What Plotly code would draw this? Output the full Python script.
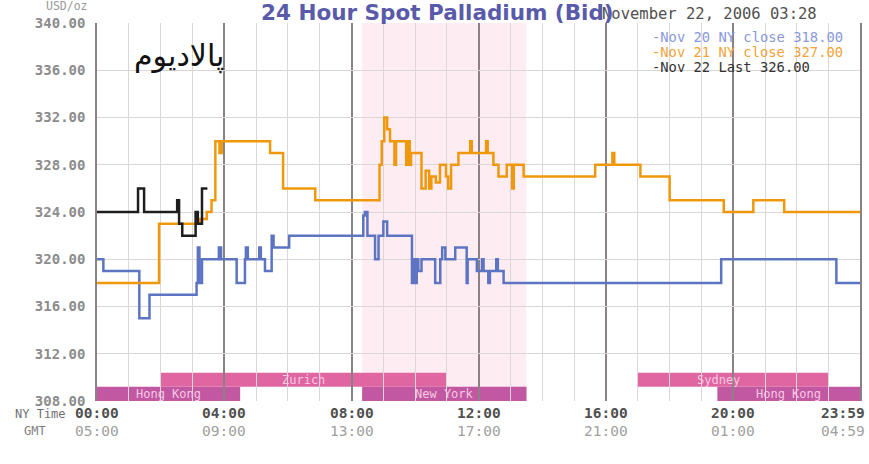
import plotly.graph_objects as go

# ---------------- data ----------------
# times in hours (NY time), values in USD/oz
nov20_t = [0, 0.2, 1.33, 1.65, 3.13, 3.17, 3.22, 3.3, 3.83, 3.9, 4.39, 4.65, 4.68, 4.74, 5.1, 5.15, 5.28, 5.49, 5.55, 6.04,
           8.37, 8.42, 8.5, 8.74, 8.85, 9.0, 9.12, 9.9, 9.95, 10.0, 10.05, 10.1, 10.2, 10.63, 10.79, 10.85, 10.95, 11.26,
           11.62, 11.65, 11.94, 12.1, 12.15, 12.3, 12.35, 12.55, 12.6, 12.78, 19.62, 23.24, 23.983]
nov20_v = [320, 319, 315, 317, 318, 321, 318, 320, 321, 320, 318, 320, 321, 320, 321, 320, 319, 322, 321, 322,
           323.7, 324, 322, 320, 322, 323.2, 322, 318, 320, 318, 320, 319, 320, 318, 320, 321, 320, 321,
           318, 320, 319, 320, 319, 318, 319, 320, 319, 318, 320, 318, 318]

nov21_t = [0, 1.95, 3.24, 3.45, 3.6, 3.72, 3.85, 3.92, 5.44, 5.85, 6.86, 8.88, 8.95, 9.03, 9.12, 9.21, 9.35, 9.4,
           9.72, 9.77, 9.83, 9.87, 10.2, 10.33, 10.44, 10.51, 10.65, 10.78, 10.97, 11.04, 11.13, 11.36, 11.73, 11.78,
           12.23, 12.28, 12.46, 12.62, 12.88, 13.05, 13.1, 13.41, 15.66, 16.2, 16.26, 17.08, 18.0, 19.7, 20.63,
           21.6, 23.983]
nov21_v = [318, 323, 323.4, 324, 325, 330, 329, 330, 329, 326, 325, 328, 330, 332, 331, 330, 328, 330,
           328, 330, 328, 329, 326, 327.5, 326, 327, 326.5, 328, 327, 326, 328, 329, 330, 329,
           330, 329, 328, 327, 328, 326, 328, 327, 328, 329, 328, 327, 325, 324, 325,
           324, 324]

nov22_t = [0, 1.29, 1.48, 2.52, 2.58, 2.68, 3.1, 3.17, 3.3, 3.47]
nov22_v = [324, 326, 324, 325, 323, 322, 324, 323, 326, 326]

y_ticks = [308, 312, 316, 320, 324, 328, 332, 336, 340]
y_tick_labels = ["308.00", "312.00", "316.00", "320.00", "324.00", "328.00", "332.00", "336.00", "340.00"]

x_major = [0, 4, 8, 12, 16, 20, 23.983]
ny_labels = ["00:00", "04:00", "08:00", "12:00", "16:00", "20:00", "23:59"]
gmt_labels = ["05:00", "09:00", "13:00", "17:00", "21:00", "01:00", "04:59"]

# markets: name, start hour, end hour, row (0 = bottom, 1 = top)
market_names = ["Hong Kong", "Zurich", "New York", "Sydney", "Hong Kong"]
market_start = [0, 2, 8.333, 17, 19.5]
market_end = [4.5, 11, 13.5, 23, 23.983]
market_row = [0, 1, 0, 1, 0]

legend_texts = ["-Nov 20 NY close 318.00", "-Nov 21 NY close 327.00", "-Nov 22 Last 326.00"]

# ---------------- styles ----------------
BLUE = "#5c74c2"
ORANGE = "#f0980c"
BLACK = "#1e1e1e"
MONO = "DejaVu Sans Mono"

W, H = 869, 464
X0, X1, Y0, Y1 = 97, 860, 23, 401   # plot area in page pixels
L, R, T, B = X0, W - X1, Y0, H - Y1


def px(xp):
    return (xp - X0) / (X1 - X0)


def py(yp):
    return (Y1 - yp) / (Y1 - Y0)


def ann(x, y, text, size, color, family=MONO, xanchor="center", xref="paper", yref="paper"):
    return dict(x=x, y=y, xref=xref, yref=yref, text=text, showarrow=False,
                xanchor=xanchor, yanchor="middle", font=dict(family=family, size=size, color=color))


fig = go.Figure()
for t, v, c in [(nov20_t, nov20_v, BLUE), (nov21_t, nov21_v, ORANGE), (nov22_t, nov22_v, BLACK)]:
    fig.add_trace(go.Scatter(x=t, y=v, mode="lines", line=dict(shape="hv", color=c, width=2.5),
                             hoverinfo="skip", showlegend=False))

shapes = []
# New York session shading
shapes.append(dict(type="rect", xref="x", yref="y", x0=8.333, x1=13.5, y0=308, y1=340,
                   fillcolor="#fdedf2", line=dict(width=0), layer="below"))
row_y = [(308, 309.2), (309.2, 310.4)]
row_col = ["#c257a2", "#e066a2"]
annotations = []
for name, s, e, r in zip(market_names, market_start, market_end, market_row):
    y0, y1 = row_y[r]
    shapes.append(dict(type="rect", xref="x", yref="y", x0=s, x1=e, y0=y0, y1=y1,
                       fillcolor=row_col[r], line=dict(width=0), layer="below"))
    cx = (s + e) / 2 - (0.45 if name == "Sydney" else 0)
    annotations.append(ann(cx, (y0 + y1) / 2, name, 12, "#f6c8e2", xref="x", yref="y"))

# legend background box
shapes.append(dict(type="rect", xref="paper", yref="paper", x0=px(645), x1=px(858), y0=py(76), y1=py(27),
                   fillcolor="white", line=dict(width=0), layer="between"))

# x tick labels (two rows)
for i, (xv, a, b) in enumerate(zip(x_major, ny_labels, gmt_labels)):
    last = i == len(x_major) - 1
    xx = px(867) if last else xv / 23.983
    anc = "right" if last else "center"
    annotations.append(ann(xx, py(413), "<b>" + a + "</b>", 14.5, "#505050", xanchor=anc))
    annotations.append(ann(xx, py(431), b, 14.5, "#a0a0a0", xanchor=anc))
annotations.append(ann(px(68), py(414), "NY Time", 12, "#707070", xanchor="right"))
annotations.append(ann(px(48), py(431), "GMT", 12, "#808080", xanchor="right"))
annotations.append(ann(px(90), py(6), "USD/oz", 11.5, "#9a9a9a", xanchor="right"))

# date and title
annotations.append(ann(px(600), py(14), "November 22, 2006 03:28", 15.5, "#505050", xanchor="left"))
annotations.append(ann(px(437), py(12), "<b>24 Hour Spot Palladium (Bid)</b>", 21.5, "#5a5aaa",
                       family="DejaVu Sans"))

# legend entries
for i, (txt, c) in enumerate(zip(legend_texts, ["#8a98dc", "#f2a43a", "#333333"])):
    annotations.append(ann(px(650), py(37 + 15 * i), txt, 13.8, c, xanchor="left"))

# Arabic label
annotations.append(ann(px(179), py(56), "پالادیوم", 30, "#111111", family="DejaVu Sans"))

fig.update_layout(
    width=W, height=H,
    margin=dict(l=L, r=R, t=T, b=B, autoexpand=False),
    paper_bgcolor="white", plot_bgcolor="white",
    shapes=shapes, annotations=annotations,
    xaxis=dict(range=[0, 23.983], tickmode="array", tickvals=x_major, showticklabels=False, automargin=False,
               showgrid=True, gridcolor="#8a8282", gridwidth=1.5, zeroline=False, showline=False,
               minor=dict(tickmode="linear", tick0=0, dtick=1, showgrid=True, gridcolor="#dcd6d6", gridwidth=1)),
    yaxis=dict(range=[308, 340], tickmode="array", tickvals=y_ticks, ticktext=y_tick_labels, automargin=False,
               showgrid=True, gridcolor="#dcd6d6", gridwidth=1, zeroline=False,
               showline=True, linecolor="#8a8282", linewidth=1.5, mirror=True,
               ticks="", ticklabelstandoff=7,
               tickfont=dict(family=MONO, size=14, color="#8c8c8c", weight="bold")),
)

fig.write_html("out.html", config={"displayModeBar": False},
               post_script="document.body.style.margin='0';document.body.style.overflow='hidden';")
